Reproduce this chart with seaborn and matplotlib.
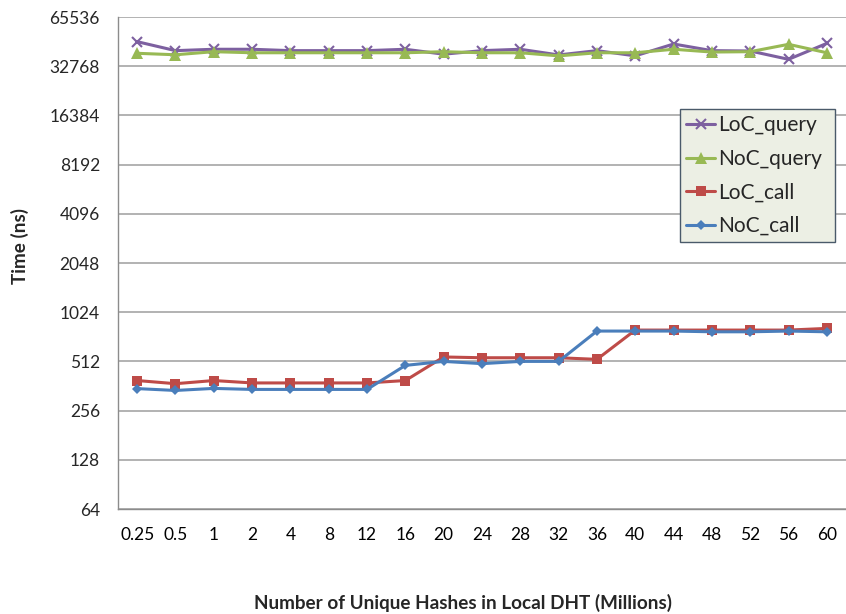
import matplotlib
matplotlib.use("Agg")
import matplotlib.pyplot as plt
import seaborn as sns
import pandas as pd
from matplotlib.ticker import FixedLocator, NullLocator

# Hash-table sizes (millions of unique hashes)
sizes = ["0.25", "0.5", "1", "2", "4", "8", "12", "16", "20", "24",
         "28", "32", "36", "40", "44", "48", "52", "56", "60"]

# Average time per operation (ns)
loc_query = [46300, 40800, 41600, 41600, 40800, 40800, 40800, 41600, 38800, 40800,
             41600, 38400, 40800, 37900, 44800, 40800, 40600, 36100, 45200]
noc_query = [39300, 38500, 40200, 39600, 39600, 39600, 39600, 39600, 40200, 39600,
             39600, 37900, 39600, 39600, 41600, 40000, 40200, 44600, 39600]
loc_call = [391, 374, 391, 378, 378, 378, 378, 391, 545, 539,
            539, 539, 527, 796, 796, 796, 796, 796, 815]
noc_call = [349, 340, 350, 345, 345, 345, 345, 484, 512, 496,
            512, 512, 785, 785, 785, 777, 777, 785, 777]

series_names = ["LoC_query", "NoC_query", "LoC_call", "NoC_call"]
series_values = [loc_query, noc_query, loc_call, noc_call]
y_ticks = [64, 128, 256, 512, 1024, 2048, 4096, 8192, 16384, 32768, 65536]

df = pd.concat(
    [pd.DataFrame({"size": sizes, "time": vals, "series": name})
     for name, vals in zip(series_names, series_values)],
    ignore_index=True,
)

palette = {"LoC_query": "#7D60A0", "NoC_query": "#98B954",
           "LoC_call": "#BE4B48", "NoC_call": "#4A7EBB"}
markers = {"LoC_query": "x", "NoC_query": "^", "LoC_call": "s", "NoC_call": "D"}
msizes = {"LoC_query": 7, "NoC_query": 8, "LoC_call": 7, "NoC_call": 5}

sns.set_style("white")
plt.rcParams["font.family"] = ["Lato", "DejaVu Sans"]

fig = plt.figure(figsize=(8.46, 6.14), dpi=100)
ax = fig.add_axes([118 / 846, 1 - 509 / 614, (846 - 118) / 846, (509 - 17) / 614])

for name in series_names:
    sns.lineplot(data=df[df["series"] == name], x="size", y="time",
                 color=palette[name], marker=markers[name],
                 markersize=msizes[name], markeredgewidth=1.5 if name == "LoC_query" else 0,
                 markeredgecolor=palette[name],
                 linewidth=2.2, sort=False, label=name, ax=ax, zorder=3)

ax.set_yscale("log", base=2)
ax.set_ylim(64, 65536)
ax.yaxis.set_major_locator(FixedLocator(y_ticks))
ax.yaxis.set_minor_locator(NullLocator())
ax.set_yticklabels([str(t) for t in y_ticks])
ax.set_xlim(-0.5, 18.36)

ax.grid(axis="y", color="#A6A6A6", linewidth=1.2, zorder=0)
ax.grid(axis="x", visible=False)
for side in ["top", "right"]:
    ax.spines[side].set_visible(False)
for side in ["left", "bottom"]:
    ax.spines[side].set_color("#8C8C8C")
    ax.spines[side].set_linewidth(1.0)

# Category boundaries carry the x tick marks
ax.set_xticks(range(len(sizes)))
ax.set_xticklabels(sizes)
ax.tick_params(axis="x", length=0, labelsize=12.5, pad=13, colors="#000000")
ax.set_xticks([i + 0.5 for i in range(-1, len(sizes))], minor=True)
ax.tick_params(axis="x", which="minor", length=5, width=1, color="#8C8C8C")
ax.tick_params(axis="y", length=5, width=1, color="#8C8C8C", labelsize=12.5, pad=8)

ax.set_xlabel("Number of Unique Hashes in Local DHT (Millions)",
              fontsize=13.6, fontweight="bold")
ax.xaxis.set_label_coords((463 - 118) / 728, -(594 - 509) / 492)
ax.set_ylabel("Time (ns)", fontsize=13.6, fontweight="bold")
ax.yaxis.set_label_coords(-(118 - 29) / 728, (509 - 246) / 492)

leg = ax.legend(loc="upper left", bbox_to_anchor=(0.772, 0.549, 0.213, 0.264),
                mode="expand", fontsize=15, frameon=True, fancybox=False,
                handlelength=1.4, handletextpad=0.15, borderpad=0.3,
                labelspacing=0.65, borderaxespad=0)
frame = leg.get_frame()
frame.set_facecolor("#ECEFE4")
frame.set_edgecolor("#4A5A6A")
frame.set_linewidth(1.0)
frame.set_alpha(1)

fig.savefig("out.png", dpi=100)
